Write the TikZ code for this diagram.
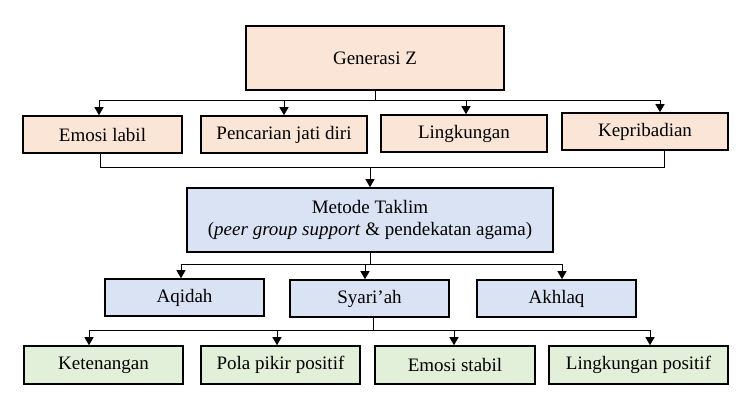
\documentclass[tikz,border=0pt]{standalone}
\usepackage{fontspec}
\setmainfont{Liberation Serif}
\usetikzlibrary{arrows.meta}
\definecolor{peach}{HTML}{FBE5D6}
\definecolor{paleblue}{HTML}{DAE3F3}
\definecolor{palegreen}{HTML}{E2F0D9}

\begin{document}
\begin{tikzpicture}[x=1pt, y=-1pt,
  box/.style={draw, line width=1.6pt, align=center, inner sep=0pt, minimum height=37pt, font=\fontsize{19}{22}\selectfont},
  topbox/.style={box, fill=peach},
  midbox/.style={box, fill=paleblue},
  lowbox/.style={box, fill=palegreen},
  link/.style={line width=0.9pt},
  arr/.style={-{Triangle[length=8pt, width=9pt]}, line width=0.9pt}
]
\useasboundingbox (0,0) rectangle (755,400);

\node[topbox, minimum width=258pt, minimum height=64pt] (gen) at (375,58) {Generasi Z};

\node[topbox, minimum width=159pt] (emosi) at (102.5,134.5) {Emosi labil};
\node[topbox, minimum width=166pt] (jati) at (284,134.5) {Pencarian jati diri};
\node[topbox, minimum width=166pt] (lingk) at (464,133.5) {Lingkungan};
\node[topbox, minimum width=166pt] (kepri) at (645,131.5) {Kepribadian};

\node[midbox, minimum width=366pt, minimum height=64pt] (metode) at (370,220) {Metode Taklim\\(\textit{peer group support} \& pendekatan agama)};

\node[midbox, minimum width=159pt] (aqidah) at (184.5,297.5) {Aqidah};
\node[midbox, minimum width=159pt] (syariah) at (369.5,298.5) {Syari’ah};
\node[midbox, minimum width=159pt] (akhlaq) at (556.5,298.5) {Akhlaq};

\node[lowbox, minimum width=159pt, minimum height=38pt] (tenang) at (103.5,365) {Ketenangan};
\node[lowbox, minimum width=159pt, minimum height=38pt] (pola) at (280.5,365) {Pola pikir positif};
\node[lowbox, minimum width=160pt, minimum height=38pt] (stabil) at (455,365) {Emosi stabil};
\node[lowbox, minimum width=179pt, minimum height=38pt] (lingpos) at (638.5,365) {Lingkungan positif};

% Generasi Z to its four traits
\coordinate (g1) at (99,100);
\coordinate (g2) at (284,100);
\coordinate (g3) at (466,100);
\coordinate (g4) at (660,100);
\draw[link] (gen.south) -- (gen.south |- g1);
\draw[link] (g1) -- (g4);
\draw[arr] (g1) -- (g1 |- emosi.north);
\draw[arr] (g2) -- (g2 |- jati.north);
\draw[arr] (g3) -- (g3 |- lingk.north);
\draw[arr] (g4) -- (g4 |- kepri.north);

% traits to Metode Taklim
\coordinate (t1) at (100,167);
\coordinate (t2) at (664,167);
\draw[link] (t1 |- emosi.south) -- (t1) -- (t2) -- (t2 |- kepri.south);
\draw[arr] (metode.north |- t1) -- (metode.north);

% Metode Taklim to its three parts
\coordinate (m1) at (181,264);
\coordinate (m2) at (365,264);
\coordinate (m3) at (562,264);
\draw[link] (metode.south) -- (metode.south |- m1);
\draw[link] (m1) -- (m3);
\draw[arr] (m1) -- (m1 |- aqidah.north);
\draw[arr] (m2) -- (m2 |- syariah.north);
\draw[arr] (m3) -- (m3 |- akhlaq.north);

% outcomes
\coordinate (s0) at (373,330);
\coordinate (o1) at (89,330);
\coordinate (o2) at (277,330);
\coordinate (o3) at (454,330);
\coordinate (o4) at (650,330);
\draw[link] (s0 |- syariah.south) -- (s0);
\draw[link] (o1) -- (o4);
\draw[arr] (o1) -- (o1 |- tenang.north);
\draw[arr] (o2) -- (o2 |- pola.north);
\draw[arr] (o3) -- (o3 |- stabil.north);
\draw[arr] (o4) -- (o4 |- lingpos.north);
\end{tikzpicture}
\end{document}
